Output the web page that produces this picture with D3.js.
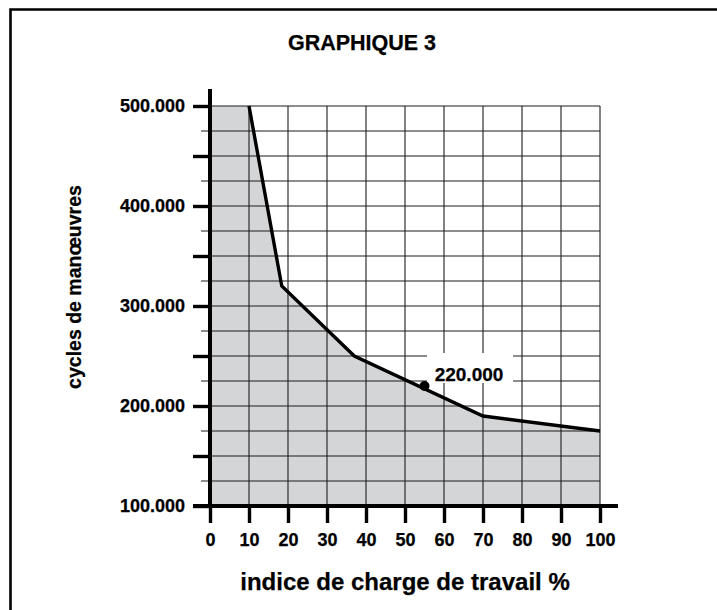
<!DOCTYPE html>
<html>
<head>
<meta charset="utf-8">
<script src="https://cdn.jsdelivr.net/npm/d3@7"></script>
<style>
  html, body { margin: 0; padding: 0; background: #fff; }
  svg { display: block; font-family: "Liberation Sans", Arial, Helvetica, sans-serif; font-weight: bold; }
  svg text { stroke: #000; stroke-width: 0.25px; }
</style>
</head>
<body>
<svg id="chart" width="717" height="610"></svg>
<script>
// Load index (%) on the x axis
const loadPct = [0, 10, 18.4, 37, 70, 100];
// Manoeuvre cycles at each load index
const cycles = [500000, 500000, 320000, 250000, 190000, 175000];
// Tick values
const xTickValues = [0, 10, 20, 30, 40, 50, 60, 70, 80, 90, 100];
const yTickValues = [100000, 150000, 200000, 250000, 300000, 350000, 400000, 450000, 500000];
const yGridValues = [125000, 150000, 175000, 200000, 225000, 250000, 275000, 300000, 325000,
                     350000, 375000, 400000, 425000, 450000, 475000, 500000];
// Highlighted reading
const markLoad = [55];
const markCycles = [220000];

const titleText = "GRAPHIQUE 3";
const xTitle = "indice de charge de travail %";
const yTitle = "cycles de manœuvres";

const fr = d3.formatLocale({ decimal: ",", thousands: ".", grouping: [3], currency: ["", ""] });
const fmt = fr.format(",");

const svg = d3.select("#chart");

const x = d3.scaleLinear().domain([0, 100]).range([210, 600]);
const y = d3.scaleLinear().domain([100000, 500000]).range([506, 106]);

// outer frame
svg.append("path")
  .attr("d", "M10.5,640 V9.5 H740")
  .attr("fill", "none")
  .attr("stroke", "#000")
  .attr("stroke-width", 2.6);

// title
svg.append("text")
  .attr("x", 362).attr("y", 50)
  .attr("text-anchor", "middle")
  .attr("font-size", 21.5)
  .text(titleText);

const pts = loadPct.map((v, i) => [v, cycles[i]]);

// shaded area under the curve
svg.append("path")
  .datum(pts)
  .attr("fill", "#d4d5d7")
  .attr("d", d3.area().x(d => x(d[0])).y0(y(100000)).y1(d => y(d[1])));

// grid
const grid = svg.append("g").attr("stroke", "#1c1c1c").attr("stroke-width", 1.1);
grid.selectAll("line.h").data(yGridValues).join("line")
  .attr("x1", 201).attr("x2", x(100))
  .attr("y1", d => y(d)).attr("y2", d => y(d));
grid.selectAll("line.v").data(xTickValues.filter(d => d > 0)).join("line")
  .attr("x1", d => x(d)).attr("x2", d => x(d))
  .attr("y1", y(500000)).attr("y2", y(100000));

// annotation label background
const lbl = svg.append("g");
lbl.append("rect")
  .attr("x", 427).attr("y", 353)
  .attr("width", 86).attr("height", 30)
  .attr("fill", "#fff");

// curve
svg.append("path")
  .datum(pts.slice(1))
  .attr("fill", "none")
  .attr("stroke", "#000")
  .attr("stroke-width", 3.4)
  .attr("stroke-linejoin", "miter")
  .attr("d", d3.line().x(d => x(d[0])).y(d => y(d[1])));

// x axis
const xAxis = svg.append("g")
  .attr("transform", `translate(0,${y(100000)})`)
  .call(d3.axisBottom(x).tickValues(xTickValues).tickSize(17).tickPadding(10).tickFormat(d3.format("d")));
xAxis.select(".domain").remove();
xAxis.selectAll(".tick line").attr("stroke", "#000").attr("stroke-width", 3.4);
xAxis.selectAll(".tick text").attr("font-size", 18).attr("fill", "#000")
  .attr("font-family", "Liberation Sans, Arial, sans-serif").attr("font-weight", "bold");

// y axis
const yAxis = svg.append("g")
  .attr("transform", `translate(${x(0)},0)`)
  .call(d3.axisLeft(y).tickValues(yTickValues).tickSize(17).tickPadding(8)
    .tickFormat(d => d % 100000 === 0 ? fmt(d) : ""));
yAxis.select(".domain").remove();
yAxis.selectAll(".tick line").attr("stroke", "#000").attr("stroke-width", 3.4);
yAxis.selectAll(".tick text").attr("font-size", 18).attr("fill", "#000")
  .attr("font-family", "Liberation Sans, Arial, sans-serif").attr("font-weight", "bold");

// axis lines
svg.append("line")
  .attr("x1", x(0)).attr("x2", x(0))
  .attr("y1", 89).attr("y2", y(100000) + 2)
  .attr("stroke", "#000").attr("stroke-width", 4);
svg.append("line")
  .attr("x1", 193).attr("x2", 618)
  .attr("y1", y(100000)).attr("y2", y(100000))
  .attr("stroke", "#000").attr("stroke-width", 4);

// highlighted reading
svg.selectAll("circle.mark").data(markLoad).join("circle")
  .attr("cx", d => x(d)).attr("cy", (d, i) => y(markCycles[i]))
  .attr("r", 5).attr("fill", "#000");
lbl.append("text")
  .attr("x", 469).attr("y", 381)
  .attr("text-anchor", "middle")
  .attr("font-size", 19)
  .text(fmt(markCycles[0]));

// axis titles
svg.append("text")
  .attr("x", 405).attr("y", 590)
  .attr("text-anchor", "middle")
  .attr("font-size", 24)
  .text(xTitle);
svg.append("text")
  .attr("transform", "translate(81,287) rotate(-90)")
  .attr("text-anchor", "middle")
  .attr("font-size", 19.5)
  .text(yTitle);
</script>
</body>
</html>
